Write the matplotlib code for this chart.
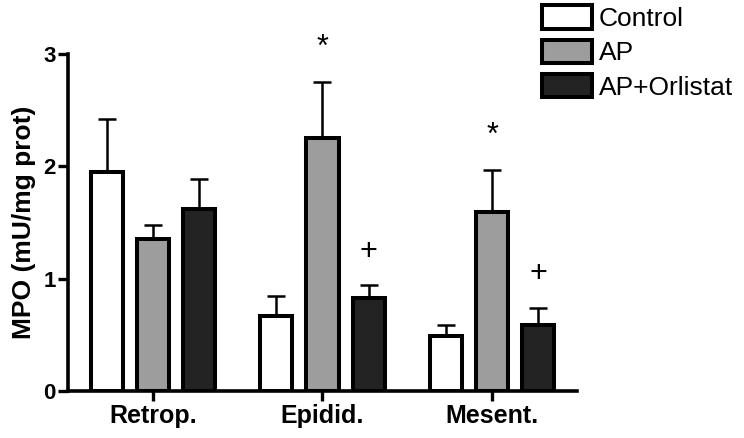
import matplotlib
matplotlib.use("Agg")
import matplotlib.pyplot as plt
import numpy as np

plt.rcParams['font.family'] = ['Liberation Sans', 'DejaVu Sans']

# data
tissues = ["Retrop.", "Epidid.", "Mesent."]
groups = ["Control", "AP", "AP+Orlistat"]
control = [1.95, 0.67, 0.49]
control_err = [0.47, 0.18, 0.10]
ap = [1.35, 2.25, 1.59]
ap_err = [0.13, 0.50, 0.38]
orlistat = [1.62, 0.83, 0.59]
orlistat_err = [0.27, 0.11, 0.15]
# significance marks above each bar ("" = none)
ap_marks = ["", "*", "*"]
orlistat_marks = ["", "+", "+"]
yticks = [0, 1, 2, 3]

colors = ["#ffffff", "#9d9d9d", "#232323"]

fig = plt.figure(figsize=(7.44, 4.38), dpi=100)
ax = fig.add_axes([0.0914, 0.1073, 0.6841, 0.7694])

x = np.arange(len(tissues))
step = 0.272
width = 0.19
series = [(control, control_err), (ap, ap_err), (orlistat, orlistat_err)]

for i, (vals, errs) in enumerate(series):
    pos = x + (i - 1) * step
    ax.errorbar(pos, vals, yerr=[np.zeros(len(errs)), errs], fmt='none',
                ecolor='black', elinewidth=1.8, capsize=6.5, capthick=1.8, zorder=1)
    ax.bar(pos, vals, width, color=colors[i], edgecolor='black',
           linewidth=2.9, label=groups[i], zorder=2)

for marks, vals, errs, off in [(ap_marks, ap, ap_err, 0), (orlistat_marks, orlistat, orlistat_err, 1)]:
    for j, m in enumerate(marks):
        if m:
            ax.text(x[j] + off * step, vals[j] + errs[j] + 0.3, m, ha='center',
                    va='center', fontsize=22, clip_on=False)

ax.set_xlim(-0.5, 2.5)
ax.set_ylim(0, 3)
ax.set_yticks(yticks, labels=[str(t) for t in yticks], fontsize=16, fontweight='bold')
ax.set_xticks(x, labels=tissues, fontsize=18, fontweight='bold')
ax.set_ylabel("MPO (mU/mg prot)", fontsize=19, fontweight='bold', labelpad=5)

for s in ['top', 'right']:
    ax.spines[s].set_visible(False)
for s in ['left', 'bottom']:
    ax.spines[s].set_linewidth(2.6)
ax.tick_params(width=2.4, length=7, direction='out', pad=2)

fig.legend(loc='upper left', bbox_to_anchor=(0.7285, 0.988), frameon=False,
           fontsize=19, handlelength=1.9, handleheight=1.0, handletextpad=0.25,
           labelspacing=0.32, borderaxespad=0, borderpad=0)

fig.savefig("out.png", dpi=100)
